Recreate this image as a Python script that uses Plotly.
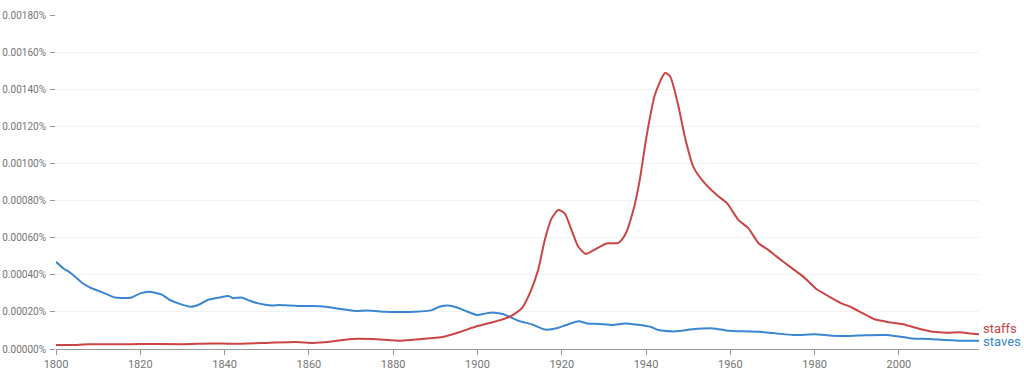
import plotly.graph_objects as go

# ---- data (percent values) ----
staves_years = [1800, 1802, 1803, 1804, 1806, 1808, 1810, 1812, 1814, 1816, 1818, 1820, 1822, 1825,
                1827, 1829, 1832, 1834, 1836, 1839, 1841, 1842, 1844, 1846, 1848, 1851, 1853, 1855,
                1858, 1861, 1864, 1868, 1871, 1874, 1878, 1881, 1885, 1889, 1891, 1893, 1895, 1897,
                1900, 1902, 1904, 1906, 1908, 1910, 1913, 1916, 1919, 1921, 1924, 1926, 1929, 1932,
                1935, 1938, 1941, 1943, 1946, 1948, 1951, 1956, 1959, 1963, 1967, 1971, 1975, 1980,
                1984, 1988, 1992, 1997, 1999, 2003, 2007, 2011, 2015, 2019]
staves_vals = [0.00047, 0.00043, 0.000417, 0.0004, 0.00036, 0.000332, 0.000314, 0.000296, 0.000277,
               0.000275, 0.000278, 0.0003, 0.000309, 0.000294, 0.000264, 0.000246, 0.000228, 0.00024,
               0.000264, 0.000278, 0.000285, 0.000274, 0.000278, 0.00026, 0.000246, 0.000235, 0.000237,
               0.000235, 0.000232, 0.000232, 0.000228, 0.000214, 0.000205, 0.000207, 0.000201, 0.0002,
               0.000201, 0.000208, 0.000228, 0.000234, 0.000225, 0.000207, 0.000183, 0.000192, 0.000196,
               0.000189, 0.00017, 0.00015, 0.000132, 0.000105, 0.000113, 0.000129, 0.000149, 0.000138,
               0.000135, 0.000129, 0.000138, 0.000131, 0.00012, 0.000102, 0.000095, 0.000097, 0.000106,
               0.000111, 0.0001, 0.000095, 0.000093, 0.000084, 0.000075, 0.000079, 0.000072, 0.00007,
               0.000074, 0.000075, 0.00007, 0.000057, 0.000054, 0.000049, 0.000045, 0.000045]

staffs_years = [1800, 1805, 1808, 1815, 1820, 1830, 1837, 1842, 1850, 1857, 1861, 1865, 1870, 1875,
                1882, 1886, 1892, 1896, 1900, 1904.5, 1907.7, 1910.5, 1912.4, 1914.4, 1916, 1917.6,
                1919.2, 1920.7, 1922.3, 1923.9, 1925.7, 1927.9, 1930.6, 1933.4, 1935, 1937, 1938.5,
                1940.1, 1942.1, 1944.5, 1945.7, 1947.7, 1949.2, 1951.2, 1953.6, 1956.8, 1959.2, 1961.9,
                1964.3, 1966.7, 1969, 1971, 1974.1, 1977.3, 1980.5, 1982.8, 1986, 1988.7, 1991.5,
                1994.3, 1997, 2001, 2005, 2008.1, 2011.3, 2014.5, 2016.8, 2019]
staffs_vals = [0.000022, 0.000022, 0.000026, 0.000025, 0.000027, 0.000026, 0.00003, 0.000028, 0.000033,
               0.000038, 0.000033, 0.000039, 0.000054, 0.000054, 0.000045, 0.000052, 0.000066, 0.000093,
               0.000124, 0.00015, 0.000174, 0.000219, 0.0003, 0.000426, 0.00059, 0.000704, 0.000749,
               0.000731, 0.000642, 0.000552, 0.000512, 0.000537, 0.000569, 0.000572, 0.000614, 0.000749,
               0.00091, 0.001144, 0.00137, 0.001487, 0.00147, 0.001307, 0.001144, 0.000983, 0.000902,
               0.00083, 0.000786, 0.000696, 0.00065, 0.00057, 0.000534, 0.000498, 0.000444, 0.00039,
               0.000322, 0.000291, 0.00025, 0.000225, 0.000192, 0.00016, 0.000147, 0.000133, 0.000108,
               0.000093, 0.000088, 0.00009, 0.000084, 0.00008]

y_ticks = [0.0, 0.0002, 0.0004, 0.0006, 0.0008, 0.0010, 0.0012, 0.0014, 0.0016, 0.0018]
y_labels = ["0.00000%", "0.00020%", "0.00040%", "0.00060%", "0.00080%",
            "0.00100%", "0.00120%", "0.00140%", "0.00160%", "0.00180%"]
x_ticks = [1800, 1820, 1840, 1860, 1880, 1900, 1920, 1940, 1960, 1980, 2000]

RED = "#cc4545"
BLUE = "#3b86d2"

fig = go.Figure()
fig.add_trace(go.Scatter(x=staves_years, y=staves_vals, mode="lines", name="staves",
                         line=dict(color=BLUE, width=2, shape="spline", smoothing=0.6)))
fig.add_trace(go.Scatter(x=staffs_years, y=staffs_vals, mode="lines", name="staffs",
                         line=dict(color=RED, width=2, shape="spline", smoothing=0.6)))

fig.add_annotation(x=staffs_years[-1], y=staffs_vals[-1], text="staffs", showarrow=False,
                   xanchor="left", yanchor="middle", xshift=2, yshift=6,
                   font=dict(color=RED, size=13, family="Roboto"))
fig.add_annotation(x=staves_years[-1], y=staves_vals[-1], text="staves", showarrow=False,
                   xanchor="left", yanchor="middle", xshift=2, yshift=-1,
                   font=dict(color=BLUE, size=13, family="Roboto"))

fig.update_layout(
    width=1024, height=371,
    margin=dict(l=56, r=45, t=15, b=22, autoexpand=False),
    paper_bgcolor="white", plot_bgcolor="white",
    showlegend=False,
    font=dict(family="Roboto", size=11, color="#757575"),
    xaxis=dict(range=[1800, 2019], tickvals=x_ticks, ticks="outside", ticklen=5,
               tickcolor="#999999", showline=True, linecolor="#999999", linewidth=1,
               showgrid=False, zeroline=False, automargin=False,
               tickfont=dict(size=11, color="#757575")),
    yaxis=dict(range=[0, 0.0018], tickvals=y_ticks, ticktext=y_labels,
               ticks="outside", ticklen=5, tickcolor="#999999", showline=False,
               showgrid=True, gridcolor="#f2f2f2", zeroline=False, automargin=False,
               ticklabelstandoff=2,
               tickfont=dict(size=10, color="#757575")),
)

fig.write_html("out.html", config={"displayModeBar": False},
               post_script="document.body.style.margin='0';document.body.style.overflow='hidden';")
